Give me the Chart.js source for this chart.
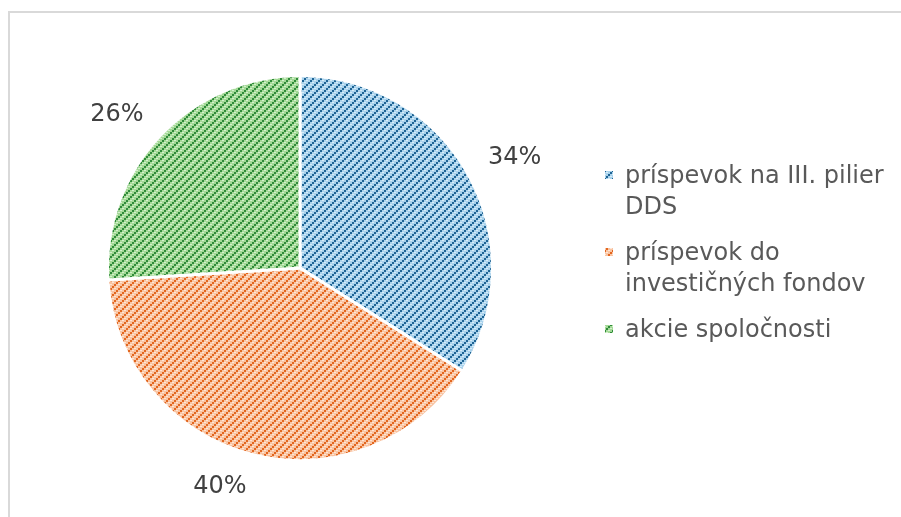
<!DOCTYPE html>
<html><head><meta charset="utf-8">
<script src="https://cdn.jsdelivr.net/npm/chart.js@4.4.1/dist/chart.umd.min.js"></script>
<style>html,body{margin:0;padding:0;background:#fff}#wrap{width:901px;height:517px;position:relative}</style>
</head><body><div id="wrap"><canvas id="c" width="901" height="517"></canvas></div>
<script>
// ---- data ----
const categories = [['príspevok na III. pilier', 'DDS'], ['príspevok do', 'investičných fondov'], ['akcie spoločnosti']];
const values = [34, 40, 26];
const valueLabels = ['34%', '40%', '26%'];
const lightColors = ['#a9d2ec', '#f9c4a2', '#a3d996'];
const darkColors = ['#1f6494', '#e2661f', '#2f8a3a'];
const paleColors = ['#d8ecf8', '#fde6d7', '#d6f0cf'];

function makePattern(light, dark, pale) {
  const N = 8;
  const c = document.createElement('canvas'); c.width = N; c.height = N;
  const g = c.getContext('2d');
  g.fillStyle = light; g.fillRect(0, 0, N, N);
  for (let i = 0; i < N; i += 2) {
    g.fillStyle = dark; g.fillRect(i, N - 2 - i, 2, 2);
    g.fillStyle = pale; g.fillRect((i + 4) % N, N - 2 - i, 2, 1);
  }
  return g.createPattern(c, 'repeat');
}
const patterns = lightColors.map((l, i) => makePattern(l, darkColors[i], paleColors[i]));

const FONT = '24px "DejaVu Sans", Verdana, sans-serif';

const frame = {
  id: 'frame',
  beforeDraw(chart) {
    const g = chart.ctx;
    g.save();
    g.fillStyle = '#fff'; g.fillRect(0, 0, chart.width, chart.height);
    g.fillStyle = '#d9d9d9';
    g.fillRect(8, 11, 2, chart.height);
    g.fillRect(8, 11, chart.width, 2);
    g.restore();
  }
};

const valueLabelPlugin = {
  id: 'valueLabels',
  afterDatasetsDraw(chart) {
    const g = chart.ctx;
    const meta = chart.getDatasetMeta(0);
    g.save();
    g.font = FONT; g.fillStyle = '#404040';
    g.textAlign = 'center'; g.textBaseline = 'alphabetic';
    meta.data.forEach((arc, i) => {
      const p = arc.getProps(['x', 'y', 'startAngle', 'endAngle', 'outerRadius'], true);
      const mid = (p.startAngle + p.endAngle) / 2;
      const cx = Math.cos(mid), sy = Math.sin(mid);
      const d = p.outerRadius + 22;
      const px = p.x + cx * d, py = p.y + sy * d;
      const w = g.measureText(valueLabels[i]).width;
      const hh = 9;
      const tx = px + Math.sign(cx) * w / 2;
      const ty = py + Math.sign(sy) * hh;
      g.fillText(valueLabels[i], tx, ty + 8.5);
    });
    g.restore();
  }
};

const legendPlugin = {
  id: 'sideLegend',
  afterDraw(chart) {
    const g = chart.ctx;
    g.save();
    g.font = FONT; g.textBaseline = 'alphabetic'; g.textAlign = 'left';
    let y = 183;
    categories.forEach((lines, i) => {
      g.fillStyle = patterns[i];
      g.fillRect(605, y - 12, 8, 8);
      g.fillStyle = '#595959';
      lines.forEach((t, j) => g.fillText(t, 625, y + j * 31));
      y += (lines.length - 1) * 31 + 46;
    });
    g.restore();
  }
};

new Chart(document.getElementById('c').getContext('2d'), {
  type: 'pie',
  data: {
    labels: categories.map(l => l.join(' ')),
    datasets: [{ data: values, backgroundColor: patterns, borderColor: '#ffffff', borderWidth: 3 }]
  },
  options: {
    responsive: false,
    animation: false,
    layout: { padding: { left: 106, right: 407, top: 74, bottom: 55 } },
    plugins: { legend: { display: false }, tooltip: { enabled: false } }
  },
  plugins: [frame, valueLabelPlugin, legendPlugin]
});
</script>
</body></html>
